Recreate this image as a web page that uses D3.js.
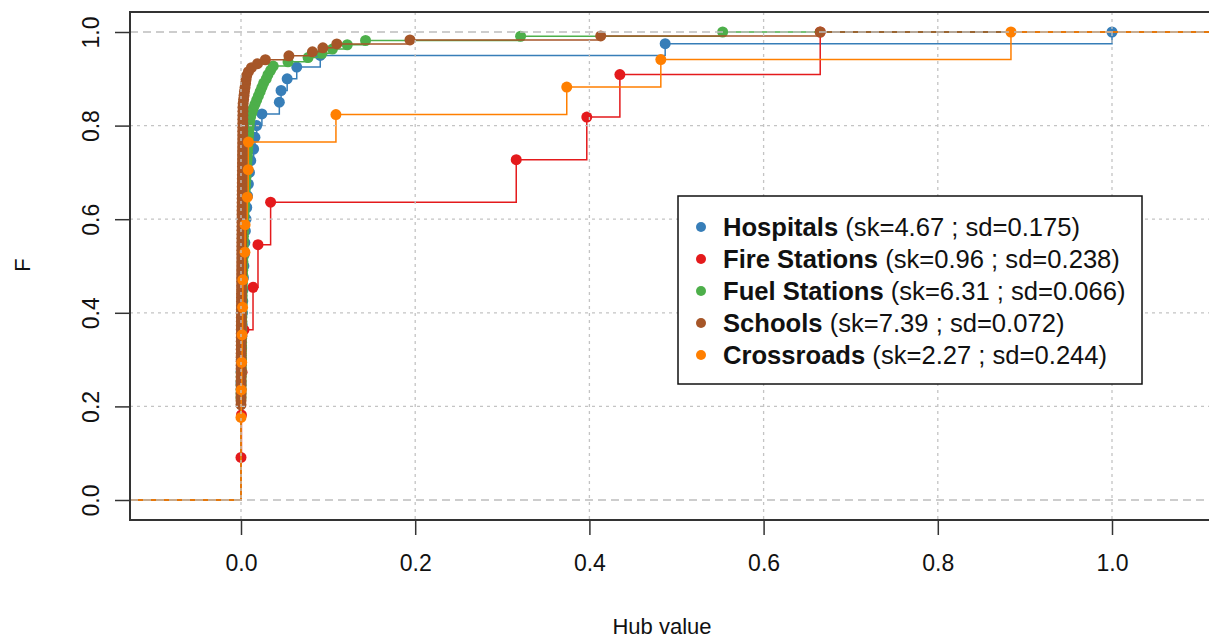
<!DOCTYPE html>
<html>
<head>
<meta charset="utf-8">
<script src="https://cdn.jsdelivr.net/npm/d3@7"></script>
<style>
  html, body { margin: 0; padding: 0; background: #fff; }
  svg { display: block; font-family: "Liberation Sans", Arial, sans-serif; }
</style>
</head>
<body>
<svg id="chart" width="1209" height="641"></svg>
<script>
// ---------------- data (hub values per facility type) ----------------
const seriesNames = ["Hospitals", "Fire Stations", "Fuel Stations", "Schools", "Crossroads"];
const seriesStats = ["(sk=4.67 ; sd=0.175)", "(sk=0.96 ; sd=0.238)", "(sk=6.31 ; sd=0.066)", "(sk=7.39 ; sd=0.072)", "(sk=2.27 ; sd=0.244)"];
const seriesColors = ["#377EB8", "#E41A1C", "#4DAF4A", "#A65628", "#FF7F00"];

const hospitals = [
  0,0,0,0,0,0,0,0,0,0,
  0.0002,0.0004,0.0007,0.001,0.0013,0.0017,0.002,0.0024,0.0028,0.0033,
  0.0038,0.0044,0.005,0.0058,0.0066,0.0075,0.0085,0.0097,0.0112,
  0.0145,0.016,0.018,0.024,0.044,0.046,0.053,0.064,0.091,0.487,1.0
];
const fireStations = [0, 0.0005, 0.0012, 0.0034, 0.0138, 0.0195, 0.034, 0.316, 0.397, 0.435, 0.665];
const fuelStations = [
  0,0,0,0,0,0,0,0,0,0,0,0,0,0,0,0,0,0,0,0,0,0,0,0,
  0.00005,0.0001,0.00015,0.0002,0.00026,0.0003,0.00035,0.0004,0.00046,0.0005,
  0.00056,0.0006,0.00066,0.0007,0.00078,0.00085,0.0009,0.00098,0.00105,0.0011,
  0.0012,0.00128,0.00135,0.0014,0.0015,0.0016,0.0017,0.0018,0.0019,0.002,
  0.0021,0.0022,0.0023,0.0024,0.0025,0.0026,0.0027,0.0028,0.0029,0.003,
  0.0031,0.0033,
  0.0035,0.0037,0.0039,0.0041,0.0044,0.0046,0.0049,0.0052,0.0055,0.0058,0.006,
  0.0064,0.0067,0.007,0.0073,0.0076,0.0079,0.0082,0.0085,0.0088,0.0091,0.0095,
  0.010,0.011,0.0125,0.014,0.016,0.018,0.020,0.022,0.024,0.026,0.029,0.031,0.034,0.037,
  0.054,0.077,0.093,0.105,0.122,0.143,0.321,0.553
];
const schools = [
  0,0,0,0,0,0,0,0,0,0,0,0,0,0,0,0,0,0,0,0,0,0,0,0,
  0.00002,0.00004,0.00005,0.00006,0.00008,0.00009,0.0001,0.00012,0.00014,0.00016,
  0.00018,0.0002,0.00022,0.00024,0.00026,0.00028,0.0003,0.00032,0.00034,0.00036,
  0.00038,0.0004,0.00042,0.00044,0.00047,0.0005,0.00053,0.00056,0.00059,0.00062,
  0.00065,0.00068,0.00071,0.00074,0.00077,0.0008,0.00083,0.00086,0.00089,0.00092,
  0.00095,0.00098,0.00101,0.00104,0.00107,0.0011,0.00113,0.00116,0.0012,0.00124,
  0.00128,0.00132,0.00136,0.0014,0.00144,0.00148,0.00152,0.00156,0.0016,0.00164,
  0.00168,0.00172,0.00176,0.0018,0.00184,0.00188,0.00192,0.00196,0.002,0.00204,
  0.00208,0.00212,0.00216,0.0022,0.00224,
  0.0025,0.003,0.0035,0.004,0.0046,0.0052,0.0058,
  0.0065,0.0085,0.012,0.019,0.028,0.055,0.082,0.094,0.110,0.194,0.413,0.665
];
const crossroads = [0,0,0, 0.0003,0.0008,0.0012,0.0018,0.0021,0.0045,0.0047,0.0073,0.0083,0.0085, 0.109,0.374,0.482,0.884];

const seriesValues = [hospitals, fireStations, fuelStations, schools, crossroads];

const xTicks = [0, 0.2, 0.4, 0.6, 0.8, 1.0];
const yTicks = [0, 0.2, 0.4, 0.6, 0.8, 1.0];
const xLabel = "Hub value";
const yLabel = "F";

// ---------------- layout ----------------
const svg = d3.select("#chart");
const plot = { left: 130, top: 12, right: 1232, bottom: 520 };
const x = d3.scaleLinear().domain([0, 1]).range([241, 1112]);
const y = d3.scaleLinear().domain([0, 1]).range([500, 32]);
const xMin = x.invert(plot.left - 2), xMax = x.invert(plot.right + 2);

svg.append("defs").append("clipPath").attr("id", "clip")
  .append("rect").attr("x", plot.left).attr("y", plot.top)
  .attr("width", plot.right - plot.left).attr("height", plot.bottom - plot.top);

const g = svg.append("g").attr("clip-path", "url(#clip)");

// ECDF per series
function ecdf(vals) {
  const s = vals.slice().sort((a, b) => a - b);
  const n = s.length;
  const pts = [];
  for (let i = 0; i < n; i++) {
    if (i < n - 1 && s[i + 1] === s[i]) continue;
    pts.push([s[i], (i + 1) / n]);
  }
  return pts;
}

const line = d3.line().x(d => x(d[0])).y(d => y(d[1])).curve(d3.curveStepAfter);

seriesValues.forEach((vals, i) => {
  const pts = ecdf(vals);
  const path = [[xMin, 0]].concat(pts).concat([[xMax, 1]]);
  g.append("path").attr("d", line(path))
    .attr("fill", "none").attr("stroke", seriesColors[i]).attr("stroke-width", 1.5);
  g.selectAll(null).data(pts).enter().append("circle")
    .attr("cx", d => x(d[0])).attr("cy", d => y(d[1])).attr("r", 5.5)
    .attr("fill", seriesColors[i]);
});

// reference dashed lines at 0 and 1
g.selectAll(null).data([0, 1]).enter().append("line")
  .attr("x1", plot.left).attr("x2", plot.right)
  .attr("y1", d => y(d)).attr("y2", d => y(d))
  .attr("stroke", "#bdbdbd").attr("stroke-width", 1.5).attr("stroke-dasharray", "8,5");

// dotted grid
g.selectAll(null).data(xTicks).enter().append("line")
  .attr("x1", d => x(d)).attr("x2", d => x(d))
  .attr("y1", plot.top).attr("y2", plot.bottom)
  .attr("stroke", "#c4c4c4").attr("stroke-width", 1.3).attr("stroke-dasharray", "3,4");
g.selectAll(null).data(yTicks.filter(v => v > 0 && v < 1)).enter().append("line")
  .attr("x1", plot.left).attr("x2", plot.right)
  .attr("y1", d => y(d)).attr("y2", d => y(d))
  .attr("stroke", "#c4c4c4").attr("stroke-width", 1.3).attr("stroke-dasharray", "3,4");

// box
svg.append("rect").attr("x", plot.left).attr("y", plot.top)
  .attr("width", plot.right - plot.left).attr("height", plot.bottom - plot.top)
  .attr("fill", "none").attr("stroke", "#333").attr("stroke-width", 2);

// axes
const xAxis = d3.axisBottom(x).tickValues(xTicks).tickFormat(d3.format(".1f")).tickSize(15).tickPadding(20);
const xa = svg.append("g").attr("transform", `translate(0,${plot.bottom})`).call(xAxis);
xa.select(".domain").remove();
xa.selectAll(".tick line").attr("stroke", "#333").attr("stroke-width", 1.5);
xa.selectAll(".tick text").attr("font-size", 23).attr("fill", "#111")
  .attr("font-family", "'Liberation Sans', Arial, sans-serif");

const yAxis = d3.axisLeft(y).tickValues(yTicks).tickFormat(d3.format(".1f")).tickSize(15).tickPadding(0);
const ya = svg.append("g").attr("transform", `translate(${plot.left},0)`).call(yAxis);
ya.select(".domain").remove();
ya.selectAll(".tick line").attr("stroke", "#333").attr("stroke-width", 1.5);
ya.selectAll(".tick text").attr("font-size", 23).attr("fill", "#111")
  .attr("font-family", "'Liberation Sans', Arial, sans-serif")
  .attr("x", null).attr("dy", null)
  .attr("text-anchor", "middle")
  .attr("transform", "translate(-39,0) rotate(-90)")
  .attr("dy", "0.35em");

// axis titles
svg.append("text").attr("x", 662).attr("y", 634).attr("text-anchor", "middle")
  .attr("font-size", 22).attr("fill", "#111").text(xLabel);
svg.append("text").attr("transform", "translate(30,265) rotate(-90)").attr("text-anchor", "middle")
  .attr("font-size", 22).attr("fill", "#111").text(yLabel);

// legend
const lg = svg.append("g");
lg.append("rect").attr("x", 678).attr("y", 196).attr("width", 464).attr("height", 188)
  .attr("fill", "#fff").attr("stroke", "#111").attr("stroke-width", 1.5);
seriesNames.forEach((name, i) => {
  const yy = 227 + i * 32;
  lg.append("circle").attr("cx", 701).attr("cy", yy).attr("r", 5).attr("fill", seriesColors[i]);
  const t = lg.append("text").attr("x", 723).attr("y", yy).attr("dy", "0.35em")
    .attr("font-size", 25.6).attr("fill", "#111");
  t.append("tspan").attr("font-weight", "bold").text(name);
  t.append("tspan").text(" " + seriesStats[i]);
});
</script>
</body>
</html>
